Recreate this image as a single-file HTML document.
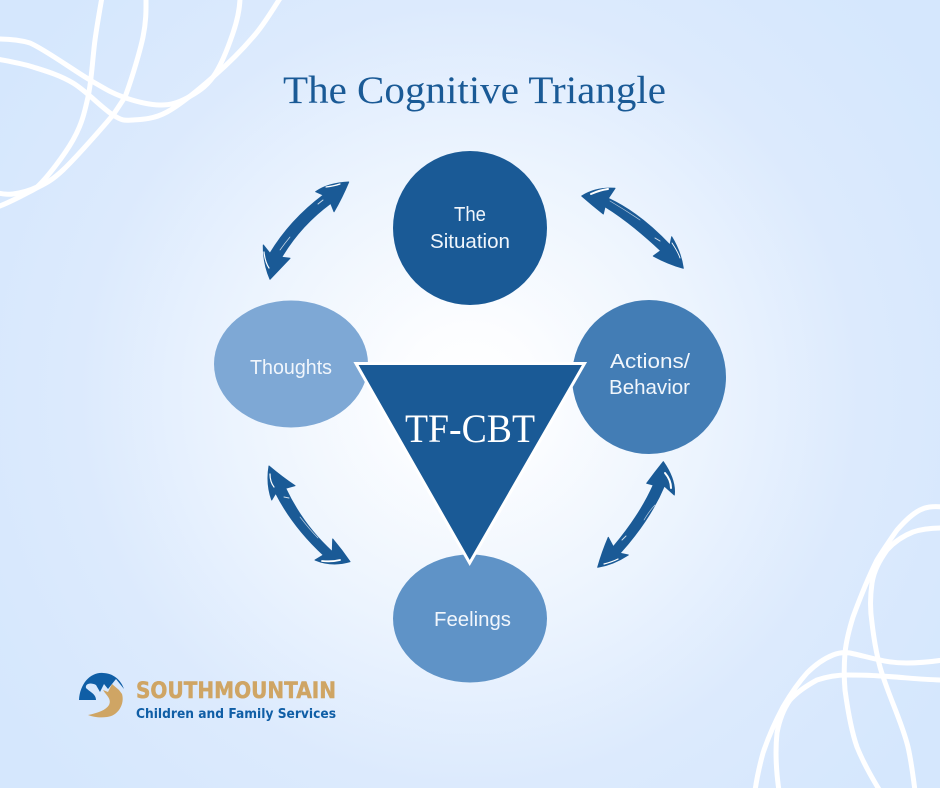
<!DOCTYPE html>
<html><head><meta charset="utf-8"><title>The Cognitive Triangle</title>
<style>
html,body{margin:0;padding:0;width:940px;height:788px;overflow:hidden}
svg{display:block}
.n{font-family:"Liberation Sans",sans-serif;font-size:20px;fill:#f1f6fc}
</style></head><body>
<svg width="940" height="788" viewBox="0 0 940 788" xmlns="http://www.w3.org/2000/svg">
<defs>
<radialGradient id="bg" gradientUnits="userSpaceOnUse" cx="470" cy="395" r="560">
<stop offset="0" stop-color="#ffffff"/><stop offset="0.12" stop-color="#fcfdff"/><stop offset="0.42" stop-color="#ecf4fe"/><stop offset="0.7" stop-color="#dceafd"/><stop offset="1" stop-color="#d5e7fd"/>
</radialGradient>
</defs>
<rect width="940" height="788" fill="url(#bg)"/>
<g fill="none" stroke="#fff" stroke-width="5" stroke-linecap="round" stroke-linejoin="round">
<path d="M-3,39 C8,39 20,40 30,43 C45.500,49.800 74.500,71 90,80 C105.500,89 111.300,92.800 123,97 C134.700,101.200 149.300,104.800 160,105 C170.700,105.200 178.200,102.700 187,98 C195.800,93.300 205.300,87.800 213,77 C220.700,66.200 228.500,46.300 233,33 C237.500,19.700 240,8 240,-3"/>
<path d="M-3,59 C3,60.300 20.300,63 33,67 C45.700,71 59.700,75 73,83 C86.300,91 103,108.800 113,115 C123,121.200 124,120.500 133,120 C142,119.500 153.700,119.200 167,112 C180.300,104.800 198.700,89.500 213,77 C227.300,64.500 241.700,50.300 253,37 C264.300,24.700 276,4 281,-3"/>
<path d="M102,-3 C100.800,4.200 97.300,23.300 95,40 C92.700,56.700 91.700,80.300 88,97 C84.300,113.700 81.500,125 73,140 C64.500,155 47,178 37,187 C29,191 19.700,193 13,194 C8,195 2,193.500 -3,193"/>
<path d="M146,-3 C146,8 146.500,20.300 143,37 C139.500,53.700 130,84 125,97 C121,103 118,108 113,115 C102.700,127.200 76.300,157.500 63,170 C49.700,182.500 44,183.800 33,190 C21,196 9,203 -3,207"/>
<path d="M943,507 C932,506 926,507 920,510 C912,514 905,521 897,530 C890,540 883,550 877,560 C868,578 860,598 853,617 C849,630 846,642 845,653 C844,665 844,678 845,690 C848,712 852,733 857,747 C863,762 872,778 880,791"/>
<path d="M943,528 C932,528 922,529 913,532 C903,536 894,542 887,550 C880,560 874,570 872,583 C870,597 870,610 872,623 C874,640 876,652 880,667 C888,695 902,722 908,747 C911,760 913,775 915,791"/>
<path d="M943,660 C930,662 918,663 907,663 C896,663 888,662 880,660 C870,658 860,655 850,653 C843,652 838,653 833,655 C823,659 815,665 807,673 C798,683 790,695 783,707 C775,722 768,738 763,753 C760,764 757,776 755,791"/>
<path d="M943,680 C925,680 900,677 880,676 C868,675 858,675 847,675 C836,675 826,677 817,680 C806,686 797,692 790,700 C783,710 779,722 777,733 C775,752 776,770 779,791"/>
</g>
<text x="283" y="103" font-family="'Liberation Serif',serif" font-size="39" fill="#1a5a96" textLength="383" lengthAdjust="spacingAndGlyphs">The Cognitive Triangle</text>
<circle cx="470" cy="228" r="77" fill="#1a5a96"/>
<ellipse cx="291" cy="364" rx="77" ry="63.500" fill="#7ea8d5"/>
<circle cx="649" cy="377" r="77" fill="#437db5"/>
<ellipse cx="470" cy="618.500" rx="77" ry="64" fill="#5f93c7"/>
<polygon points="356,363.500 584.500,363.500 469.700,563" fill="#1a5a96" stroke="#fff" stroke-width="3" stroke-linejoin="miter"/>
<text x="405" y="442" font-family="'Liberation Serif',serif" font-size="40" fill="#fff" textLength="130" lengthAdjust="spacingAndGlyphs">TF-CBT</text>
<text class="n" x="454" y="221" textLength="32" lengthAdjust="spacingAndGlyphs">The</text>
<text class="n" x="430" y="248" textLength="80" lengthAdjust="spacingAndGlyphs">Situation</text>
<text class="n" x="250" y="374" textLength="82" lengthAdjust="spacingAndGlyphs">Thoughts</text>
<text class="n" x="610" y="368" textLength="80" lengthAdjust="spacingAndGlyphs">Actions/</text>
<text class="n" x="609" y="394" textLength="81" lengthAdjust="spacingAndGlyphs">Behavior</text>
<text class="n" x="434" y="626" textLength="77" lengthAdjust="spacingAndGlyphs">Feelings</text>
<g fill="#1a5a96" stroke="#1a5a96" stroke-width="1" stroke-linejoin="round">
<path d="M348.700,182 Q342,198 334,211.700 L330.700,203.300 Q300,226 281.700,257.300 L290,258.300 L270,279.300 Q263,263 263.300,245 L270,253.300 Q290,220 323.300,195 L315.700,191.700 Q328,183 348.700,182Z"/>
<path d="M581.700,196 Q596,187 615,188.300 L608.300,198.300 Q640,213 670,245 L671.700,236.700 Q681,252 683.300,268.300 Q668,264 653.300,256 L660.700,250.700 Q630,222 605,206.700 L603.300,214 Q592,205 581.700,196Z"/>
<path d="M269,466 Q282,477 295,485.700 L285.700,488.300 Q303,525 332.300,551.700 L332.700,539 Q342,550 350,561.700 Q332,567 315,560 L323.300,555 Q293,527 275.700,493.300 L271.700,500 Q266,484 269,466Z"/>
<path d="M663.300,461.700 Q676,480 674.300,495 L664.300,486 Q650,520 620,553.300 L628.300,555 Q613,565 597.700,567.300 Q602,552 608.300,537.300 L613.300,546.700 Q640,515 653.300,485 L646.700,483.300 Q655,472 663.300,461.700Z"/>
</g>
<g fill="none" stroke="#fff" stroke-linecap="round">
<path d="M326,187 Q334,186 340,184" stroke-width="1.200"/><path d="M264,252 Q265,262 269,268" stroke-width="1.200"/>
<path d="M318,204 L323,200" stroke-width="1" opacity=".8"/><path d="M280,250 Q285,243 290,237" stroke-width=".7" opacity=".8"/>
<path d="M591,194 Q600,190 608,189" stroke-width="2"/><path d="M610,201 Q625,210 640,220" stroke-width=".7" opacity=".7"/>
<path d="M672,243 Q678,252 680,258" stroke-width=".9"/><path d="M655,238 L660,241" stroke-width="1" opacity=".8"/>
<path d="M270,474 Q270,482 274,487" stroke-width="1.200"/><path d="M300,517 Q310,530 318,538" stroke-width=".7" opacity=".7"/>
<path d="M322,561 Q332,562 340,560" stroke-width="1.800"/><path d="M284,497 L289,498" stroke-width="1" opacity=".8"/>
<path d="M665,473 Q671,480 671,488" stroke-width="2"/><path d="M644,520 Q650,510 655,505" stroke-width=".7" opacity=".7"/>
<path d="M604,564 Q612,562 618,559" stroke-width="1.200"/><path d="M622,540 L626,536" stroke-width="1" opacity=".8"/>
</g>
<path d="M79,700 C80,683 91,672 103,673 C113,673 121,680 124,689 L116,679 L112,684 L108,689 L104,684 L100,692 L96,685 C90,682 85,684 86,688 C90,692 96,694 96,700Z" fill="#0f5ea6"/>
<path d="M88,715 C98,713 106,710 109,705 C112,699 106,695 103,690 L108,692 L112,684 L119,690 L122,694 C125,704 118,716 107,717 C100,718 93,717 88,715Z" fill="#cfa564"/>
<text x="136" y="698" font-family="'DejaVu Sans','Liberation Sans',sans-serif" font-weight="bold" font-size="22" fill="#cfa564" stroke="#cfa564" stroke-width=".5" textLength="200" lengthAdjust="spacingAndGlyphs">SOUTHMOUNTAIN</text>
<text x="136" y="718" font-family="'DejaVu Sans','Liberation Sans',sans-serif" font-weight="bold" font-size="13" fill="#0f5ea6" textLength="200" lengthAdjust="spacingAndGlyphs">Children and Family Services</text>
</svg>
</body></html>
